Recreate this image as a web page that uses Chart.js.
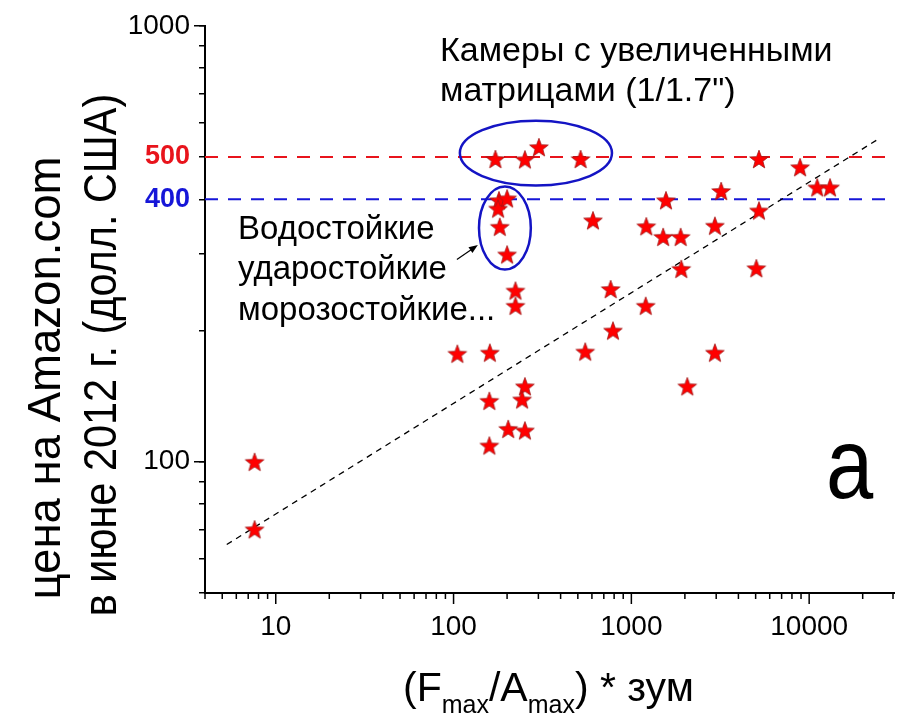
<!DOCTYPE html>
<html lang="ru">
<head>
<meta charset="UTF-8">
<title>Цена и (Fmax/Amax)*зум</title>
<script src="https://cdn.jsdelivr.net/npm/chart.js@4.4.1/dist/chart.umd.min.js"></script>
<style>
  html, body { margin: 0; padding: 0; background: #fff; }
  canvas { display: block; }
</style>
</head>
<body>
<canvas id="chart" width="897" height="716"></canvas>
<script>
// (Fmax/Amax) * зум
const zoomRatio = [172, 252, 302, 518, 5220, 8890, 11100, 13100, 3200, 1565,
  5220, 180, 200, 178, 182, 200, 608, 1213, 1510, 1894,
  2950, 1909, 5045, 223, 223, 765, 1204, 788, 105, 160,
  550, 2950, 2063, 252, 243, 159, 203, 252, 159, 7.6, 7.6];
// цена, долл. США
const price = [495, 494, 527, 495, 495, 474, 426, 426, 418, 398,
  377, 398, 402, 381, 346, 299, 358, 347, 328, 328,
  348, 277, 278, 247, 228, 249, 228, 200, 177, 178,
  179, 178, 149, 149, 139, 138, 119, 118, 109, 100, 70];

// линия тренда (концы)
const trendX = [5.3, 24700];
const trendY = [64.6, 551];

// уровни 500 и 400
const levelRed = 500;
const levelBlue = 400;

const xRange = [4, 30000];
const yRange = [50, 1000];
const xTicks = [4, 5, 6, 7, 8, 9, 10, 20, 30, 40, 50, 60, 70, 80, 90,
  100, 200, 300, 400, 500, 600, 700, 800, 900,
  1000, 2000, 3000, 4000, 5000, 6000, 7000, 8000, 9000, 10000, 20000, 30000];
const xLabels = [10, 100, 1000, 10000];
const yTicks = [50, 60, 70, 80, 90, 100, 200, 300, 400, 500, 600, 700, 800, 900, 1000];
const yLabels = [100, 400, 500, 1000];
const yMajor = [100, 1000];

// овалы: [xmin, xmax, ymin, ymax]
const ovalTop = [108.5, 778, 430, 606];
const ovalLeft = [139, 272, 276, 428];
// стрелка: от -> к
const arrowFrom = [104.4, 291];
const arrowTo = [137, 314];

const FONT = '"Liberation Sans", Arial, sans-serif';
const RED = '#e8141c';
const BLUE = '#1616d8';

function makeStar(r) {
  const size = Math.ceil(r * 2 + 4);
  const c = document.createElement('canvas');
  c.width = size; c.height = size;
  const g = c.getContext('2d');
  const cx = size / 2, cy = size / 2 + r * 0.1;
  g.beginPath();
  for (let i = 0; i < 10; i++) {
    const rad = i % 2 === 0 ? r : r * 0.42;
    const a = -Math.PI / 2 + i * Math.PI / 5;
    g.lineTo(cx + rad * Math.cos(a), cy + rad * Math.sin(a));
  }
  g.closePath();
  g.fillStyle = '#ff0000';
  g.fill();
  g.strokeStyle = '#a01818';
  g.lineWidth = 0.8;
  g.stroke();
  return c;
}

const star = makeStar(9.8);

function rotatedText(ctx, text, x, y, size, sx) {
  ctx.save();
  ctx.translate(x, y);
  ctx.rotate(-Math.PI / 2);
  ctx.scale(sx, 1);
  ctx.font = size + 'px ' + FONT;
  ctx.textAlign = 'center';
  ctx.fillText(text, 0, 0);
  ctx.restore();
}

const notes = {
  id: 'notes',
  afterDatasetsDraw(chart) {
    const { ctx, scales: { x, y } } = chart;
    ctx.save();

    // овалы
    ctx.strokeStyle = '#1414c4';
    ctx.lineWidth = 2.5;
    [ovalTop, ovalLeft].forEach((o) => {
      const l = x.getPixelForValue(o[0]), r = x.getPixelForValue(o[1]);
      const t = y.getPixelForValue(o[3]), b = y.getPixelForValue(o[2]);
      ctx.beginPath();
      ctx.ellipse((l + r) / 2, (t + b) / 2, (r - l) / 2, (b - t) / 2, 0, 0, Math.PI * 2);
      ctx.stroke();
    });

    // стрелка
    const x0 = x.getPixelForValue(arrowFrom[0]), y0 = y.getPixelForValue(arrowFrom[1]);
    const x1 = x.getPixelForValue(arrowTo[0]), y1 = y.getPixelForValue(arrowTo[1]);
    const ang = Math.atan2(y1 - y0, x1 - x0);
    ctx.strokeStyle = '#000';
    ctx.lineWidth = 1.2;
    ctx.beginPath();
    ctx.moveTo(x0, y0);
    ctx.lineTo(x1 - 6 * Math.cos(ang), y1 - 6 * Math.sin(ang));
    ctx.stroke();
    ctx.fillStyle = '#000';
    ctx.beginPath();
    ctx.moveTo(x1, y1);
    ctx.lineTo(x1 - 9 * Math.cos(ang) + 3.5 * Math.sin(ang), y1 - 9 * Math.sin(ang) - 3.5 * Math.cos(ang));
    ctx.lineTo(x1 - 9 * Math.cos(ang) - 3.5 * Math.sin(ang), y1 - 9 * Math.sin(ang) + 3.5 * Math.cos(ang));
    ctx.closePath();
    ctx.fill();

    // засечки
    ctx.lineWidth = 1.5;
    ctx.beginPath();
    yMajor.forEach((v) => {
      const py = y.getPixelForValue(v);
      ctx.moveTo(x.left - 11, py);
      ctx.lineTo(x.left, py);
    });
    xTicks.forEach((v) => {
      const px = Math.min(x.getPixelForValue(v), x.right - 1);
      ctx.moveTo(px, y.bottom);
      ctx.lineTo(px, y.bottom + (xLabels.includes(v) ? 11 : 6));
    });
    ctx.stroke();

    // подписи
    ctx.fillStyle = '#000';
    ctx.textAlign = 'left';
    ctx.textBaseline = 'alphabetic';
    ctx.font = '34px ' + FONT;
    ctx.fillText('Камеры с увеличенными', 440, 61);
    ctx.fillText('матрицами (1/1.7")', 440, 101);
    ctx.font = '33px ' + FONT;
    ctx.fillText('Водостойкие', 238, 239);
    ctx.fillText('ударостойкие', 238, 279);
    ctx.fillText('морозостойкие...', 238, 320);

    ctx.save();
    ctx.translate(826, 498);
    ctx.scale(0.85, 1);
    ctx.font = '100px ' + FONT;
    ctx.fillText('a', 0, 0);
    ctx.restore();

    // подпись оси Y
    rotatedText(ctx, 'цена на Amazon.com', 60, 378, 46, 0.99);
    rotatedText(ctx, 'в июне 2012 г. (долл. США)', 116, 355, 46, 0.9);

    // подпись оси X с индексами
    ctx.textAlign = 'left';
    const big = '41px ' + FONT, small = '25px ' + FONT;
    const parts = [['(', big, 0], ['F', big, 0], ['max', small, 12], ['/', big, 0],
      ['A', big, 0], ['max', small, 12], [')', big, 0], [' * зум', big, 0]];
    let cx = 403;
    parts.forEach(([s, f, dy]) => {
      ctx.font = f;
      ctx.fillText(s, cx, 701 + dy);
      cx += ctx.measureText(s).width;
    });

    ctx.restore();
  }
};

const levelLine = (v, color) => ({
  type: 'line',
  data: xRange.map((xv) => ({ x: xv, y: v })),
  borderColor: color,
  borderWidth: 2,
  borderDash: [13, 10],
  pointRadius: 0,
  fill: false
});

new Chart(document.getElementById('chart'), {
  type: 'scatter',
  data: {
    datasets: [
      {
        data: zoomRatio.map((v, i) => ({ x: v, y: price[i] })),
        pointStyle: star,
        pointRadius: 10,
        order: 0
      },
      Object.assign(levelLine(levelRed, RED), { order: 2 }),
      Object.assign(levelLine(levelBlue, BLUE), { order: 2 }),
      {
        type: 'line',
        data: trendX.map((v, i) => ({ x: v, y: trendY[i] })),
        borderColor: '#000',
        borderWidth: 1.3,
        borderDash: [6, 5],
        pointRadius: 0,
        fill: false,
        order: 1
      }
    ]
  },
  options: {
    responsive: false,
    animation: false,
    events: [],
    layout: { autoPadding: false, padding: { top: 25, right: 3, left: 0, bottom: 0 } },
    plugins: { legend: { display: false }, tooltip: { enabled: false } },
    scales: {
      x: {
        type: 'logarithmic',
        min: xRange[0],
        max: xRange[1],
        afterFit: (s) => { s.height = 123; },
        afterBuildTicks: (s) => { s.ticks = xTicks.map((v) => ({ value: v })); },
        ticks: {
          autoSkip: false,
          maxRotation: 0,
          padding: 0,
          color: '#000',
          font: { family: FONT, size: 28 },
          callback: (v) => (xLabels.includes(v) ? String(v) : '')
        },
        grid: { drawOnChartArea: false, tickLength: 17, tickColor: 'rgba(0,0,0,0)' },
        border: { color: '#000', width: 2 }
      },
      y: {
        type: 'logarithmic',
        min: yRange[0],
        max: yRange[1],
        afterFit: (s) => { s.width = 205; },
        afterBuildTicks: (s) => { s.ticks = yTicks.map((v) => ({ value: v })); },
        ticks: {
          autoSkip: false,
          padding: 9,
          color: (c) => (c.tick.value === levelRed ? RED : c.tick.value === levelBlue ? BLUE : '#000'),
          font: (c) => (c.tick && (c.tick.value === levelRed || c.tick.value === levelBlue)
            ? { family: FONT, size: 27, weight: 'bold' }
            : { family: FONT, size: 28 }),
          callback: (v) => (yLabels.includes(v) ? String(v) : '')
        },
        grid: { drawOnChartArea: false, tickLength: 6, color: '#000', lineWidth: 1.5 },
        border: { color: '#000', width: 2 }
      }
    }
  },
  plugins: [notes]
});
</script>
</body>
</html>
